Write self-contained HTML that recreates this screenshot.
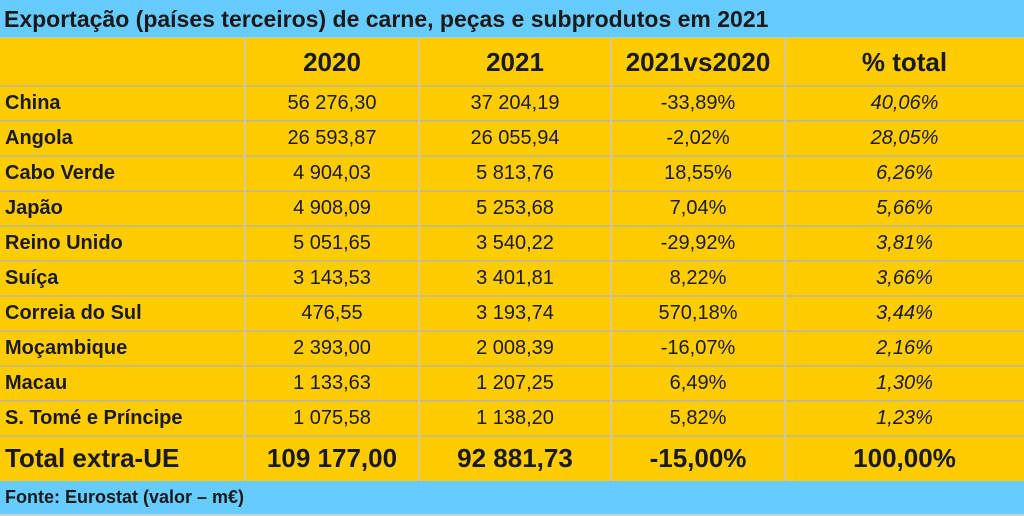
<!DOCTYPE html>
<html><head><meta charset="utf-8"><style>
*{margin:0;padding:0;box-sizing:border-box}
body{width:1024px;height:516px;background:#ffcc00;font-family:"Liberation Sans",sans-serif;color:#1a1a1a;position:relative;overflow:hidden}
.r{position:absolute;left:0;width:1024px}
.c{position:absolute;top:0;height:100%;display:flex;align-items:center;justify-content:center;white-space:nowrap}
.b{background:#66ccff}
.l{justify-content:flex-start;padding-left:5px;font-weight:bold}
.i{font-style:italic}
.hl{position:absolute;left:0;width:1024px;height:2px;background:#cdbb7a}
.vl{position:absolute;width:2px;top:38px;height:443px;background:#d9c891}
</style></head><body>
<div class="r b" style="top:0;height:38px;border-bottom:1px solid #b9c9d0"><div style="position:absolute;left:4px;top:0;height:38px;line-height:38px;font-weight:bold;font-size:23px">Exportação (países terceiros) de carne, peças e subprodutos em 2021</div></div>
<div id="t"></div>
<div class="r b" style="top:481px;height:33px"><div style="position:absolute;left:5px;top:0;line-height:33px;font-weight:bold;font-size:18px">Fonte: Eurostat (valor – m€)</div></div>
<div class="r" style="top:514px;height:2px;background:#ccc"></div>
<script>
var X=[0,245,419,611,785,1024];
function row(top,h,cells,st,cls){var s='<div class="r" style="top:'+top+'px;height:'+h+'px;'+st+'">';
for(var k=0;k<5;k++){var c=cls[k]||'';s+='<div class="c '+c+'" style="left:'+X[k]+'px;width:'+(X[k+1]-X[k])+'px">'+cells[k]+'</div>';}
return s+'</div>';}
var h='';
h+=row(38,48,['','2020','2021','2021vs2020','% total'],'font-size:26px;font-weight:bold',[]);
var d=[["China","56 276,30","37 204,19","-33,89%","40,06%"],["Angola","26 593,87","26 055,94","-2,02%","28,05%"],["Cabo Verde","4 904,03","5 813,76","18,55%","6,26%"],["Japão","4 908,09","5 253,68","7,04%","5,66%"],["Reino Unido","5 051,65","3 540,22","-29,92%","3,81%"],["Suíça","3 143,53","3 401,81","8,22%","3,66%"],["Correia do Sul","476,55","3 193,74","570,18%","3,44%"],["Moçambique","2 393,00","2 008,39","-16,07%","2,16%"],["Macau","1 133,63","1 207,25","6,49%","1,30%"],["S. Tomé e Príncipe","1 075,58","1 138,20","5,82%","1,23%"]];
for(var i=0;i<d.length;i++)h+=row(86+i*35,35,d[i],'font-size:20px',['l','','','','i']);
h+=row(436,45,['Total extra-UE','109 177,00','92 881,73','-15,00%','100,00%'],'font-size:26px;font-weight:bold',['l']);
for(var i=0;i<=10;i++)h+='<div class="hl" style="top:'+(85+i*35)+'px"></div>';
for(var k=1;k<5;k++)h+='<div class="vl" style="left:'+(X[k]-1)+'px"></div>';
document.getElementById('t').outerHTML=h;
</script>
</body></html>
